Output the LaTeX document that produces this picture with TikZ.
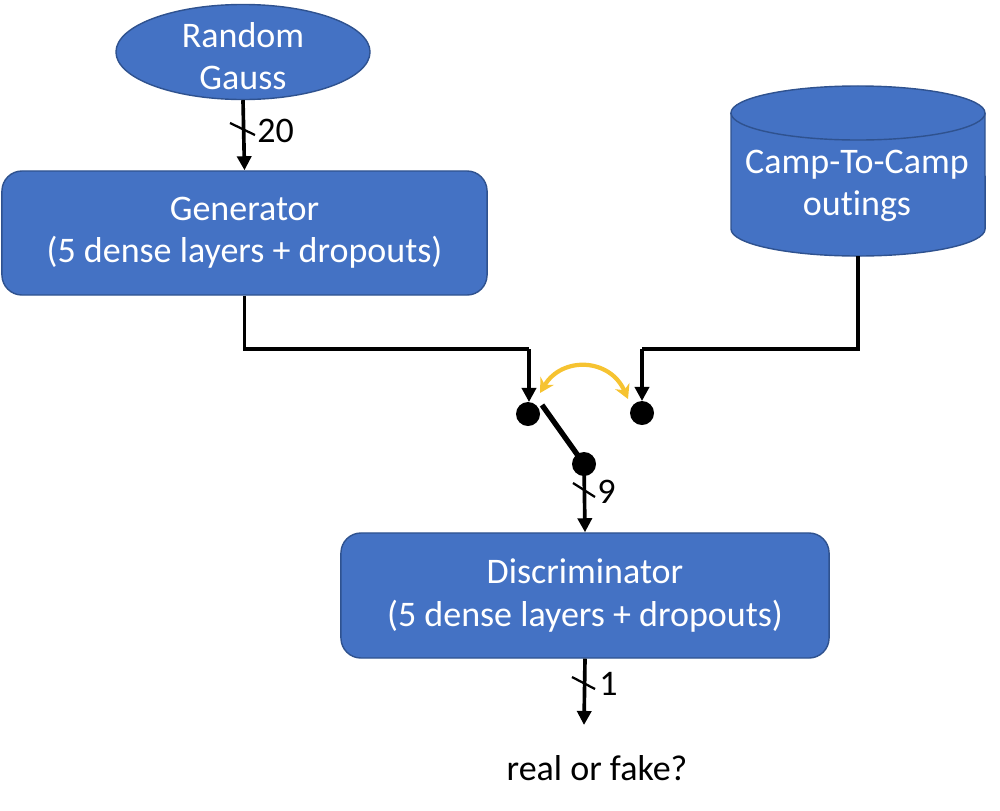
\documentclass[tikz,border=0pt]{standalone}
\usepackage{fontspec}
\setmainfont{Carlito}[Ligatures=NoCommon]
\usetikzlibrary{shapes.geometric,arrows.meta}
\definecolor{boxfill}{HTML}{4472C4}
\definecolor{boxline}{HTML}{2F528F}
\definecolor{swyellow}{HTML}{F6C331}
\tikzset{
  x=0.025cm, y=-0.025cm,
  every node/.style={font=\fontsize{25.6}{30}\selectfont},
  blk/.style={draw=boxline, line width=1pt, fill=boxfill, text=white, align=center},
  arr/.style={line width=2.6pt, -{Triangle[length=10pt,width=10pt]}},
  wire/.style={line width=2.6pt},
  slash/.style={line width=1.6pt},
  dot/.style={circle, fill=black, minimum size=0.6cm, inner sep=0pt},
  lbl/.style={anchor=west, inner sep=0pt}
}
\begin{document}
\begin{tikzpicture}
\useasboundingbox (0,0) rectangle (1000,810);

% nodes
\node[blk, ellipse, minimum width=6.35cm, minimum height=2.375cm, inner sep=0pt] (gauss) at (243,52) {};
\node[text=white, align=center, inner sep=0pt] (gausslbl) at (243,56) {Random\\Gauss};
\node[blk, rectangle, rounded corners=0.5cm, minimum width=12.125cm, minimum height=3.1cm] (gen) at (244.5,233) {Generator\\(5 dense layers + dropouts)};
\node[blk, rectangle, rounded corners=0.5cm, minimum width=12.2cm, minimum height=3.125cm] (disc) at (585,595.5) {Discriminator\\(5 dense layers + dropouts)};

% cylinder
\filldraw[draw=boxline, fill=boxfill, line width=1pt]
  (731,113) -- (731,229) arc[start angle=180, end angle=360, x radius=3.175cm, y radius=0.675cm]
  -- (985,113) arc[start angle=0, end angle=180, x radius=3.175cm, y radius=0.675cm] -- cycle;
\draw[draw=boxline, line width=1pt] (731,113) arc[start angle=180, end angle=360, x radius=3.175cm, y radius=0.675cm];
\node[text=white, align=center, inner sep=0pt] (camp) at (857,186) {Camp-To-Camp\\outings};
\coordinate (campbot) at (858,256);

% switch dots
\node[dot] (ldot) at (528,414) {};
\node[dot] (rdot) at (642,413) {};
\node[dot] (bdot) at (584,464) {};

\coordinate (jl) at (529,349);
\coordinate (jr) at (642,349);
\coordinate (ltip) at (529,402);
\coordinate (rtip) at (642,401);
\coordinate (swa) at (542,405);

% connectors
\draw[arr] (gauss.south) -- (gen.north);
\draw[slash] (230,123) -- (255,135);
\node[lbl] (l20) at (257,131) {20};

\draw[wire] (gen.south) |- (jl);
\draw[arr] (jl) -- (ltip);
\draw[wire] (campbot) |- (jr);
\draw[arr] (jr) -- (rtip);

\draw[line width=3.8pt] (swa) -- (bdot.center);

\draw[line width=3pt, swyellow, {Stealth[length=10pt,width=11pt]}-{Stealth[length=10pt,width=11pt]}]
  (540,393) .. controls (562,356) and (610,358) .. (628,399);

\draw[arr] (bdot.center) -- (disc.north);
\draw[slash] (573,483) -- (595,497);
\node[lbl] (l9) at (597,492) {9};

\coordinate (outtip) at (584,725);
\draw[arr] (disc.south) -- (outtip);
\draw[slash] (572,677) -- (595,689);
\node[lbl] (l1) at (599,684) {1};

\node (out) at (597,768) {real or fake?};
\end{tikzpicture}
\end{document}
